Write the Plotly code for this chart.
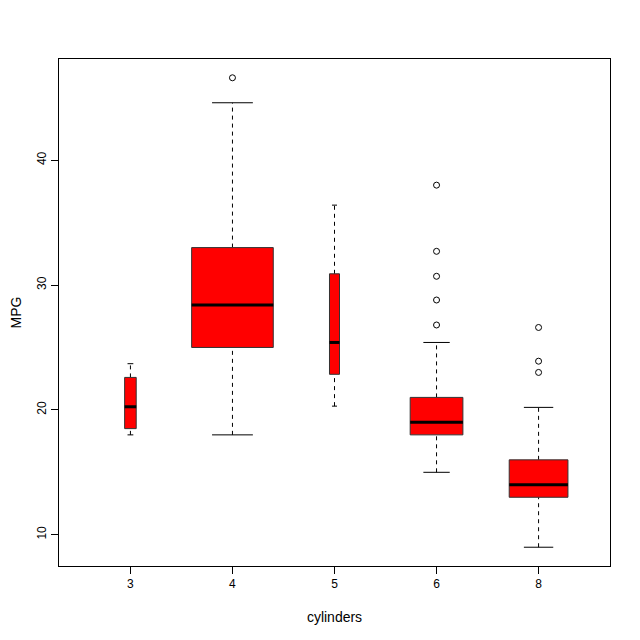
import plotly.graph_objects as go

# Auto MPG: mpg por nº de cilindros (estatísticas do boxplot do R, varwidth=TRUE)
cylinders = ["3", "4", "5", "6", "8"]
counts = [4, 199, 3, 83, 103]
lower_whisker = [18.0, 18.0, 20.3, 15.0, 9.0]
q1 = [18.5, 25.0, 22.85, 18.0, 13.0]
median = [20.25, 28.4, 25.4, 19.0, 14.0]
q3 = [22.6, 33.0, 30.9, 21.0, 16.0]
upper_whisker = [23.7, 44.6, 36.4, 25.4, 20.2]
outliers = {
    "4": [46.6],
    "6": [38.0, 32.7, 30.7, 28.8, 26.8],
    "8": [26.6, 23.9, 23.0],
}

pos = list(range(1, len(cylinders) + 1))
max_n = max(counts)
widths = [0.8 * (n / max_n) ** 0.5 for n in counts]

fig = go.Figure()
shapes = []
for i, x in enumerate(pos):
    hw = widths[i] / 2
    cw = widths[i] / 4
    # bigodes tracejados
    shapes.append(dict(type="line", xref="x", yref="y", x0=x, x1=x,
                       y0=lower_whisker[i], y1=q1[i],
                       line=dict(color="black", width=1, dash="4px,4px")))
    shapes.append(dict(type="line", xref="x", yref="y", x0=x, x1=x,
                       y0=q3[i], y1=upper_whisker[i],
                       line=dict(color="black", width=1, dash="4px,4px")))
    # hastes
    for yv in (lower_whisker[i], upper_whisker[i]):
        shapes.append(dict(type="line", xref="x", yref="y", x0=x - cw, x1=x + cw,
                           y0=yv, y1=yv, line=dict(color="black", width=1)))
    # caixa
    shapes.append(dict(type="rect", xref="x", yref="y", x0=x - hw, x1=x + hw,
                       y0=q1[i], y1=q3[i], fillcolor="#ff0000",
                       line=dict(color="#333333", width=1)))
    # mediana
    shapes.append(dict(type="line", xref="x", yref="y", x0=x - hw, x1=x + hw,
                       y0=median[i], y1=median[i],
                       line=dict(color="black", width=3)))

ox, oy = [], []
for i, c in enumerate(cylinders):
    for v in outliers.get(c, []):
        ox.append(pos[i])
        oy.append(v)
fig.add_trace(go.Scatter(
    x=ox, y=oy, mode="markers",
    marker=dict(symbol="circle-open", size=6, color="black", line=dict(width=1)),
    showlegend=False, hoverinfo="y",
))

# a página tem margem de 8px no body -> compensar nas margens
fig.update_layout(
    width=640, height=640,
    margin=dict(l=51, r=38, t=51, b=82),
    plot_bgcolor="white", paper_bgcolor="white",
    font=dict(family="Liberation Sans, Arial, sans-serif", size=12, color="black"),
    shapes=shapes,
    showlegend=False,
    xaxis=dict(
        range=[0.3, 5.7], tickvals=pos, ticktext=cylinders,
        showgrid=False, zeroline=False, showline=True, linecolor="black",
        mirror=True, ticks="outside", ticklen=7, tickcolor="black",
        automargin=False,
        title=dict(text="cylinders", standoff=21),
    ),
    yaxis=dict(
        range=[7.496, 48.104], tickvals=[10, 20, 30, 40],
        showgrid=False, zeroline=False, showline=True, linecolor="black",
        mirror=True, ticks="outside", ticklen=7, tickcolor="black",
        tickangle=-90, automargin=False,
        title=dict(text="MPG", standoff=20),
    ),
)

fig.write_html("out.html")
